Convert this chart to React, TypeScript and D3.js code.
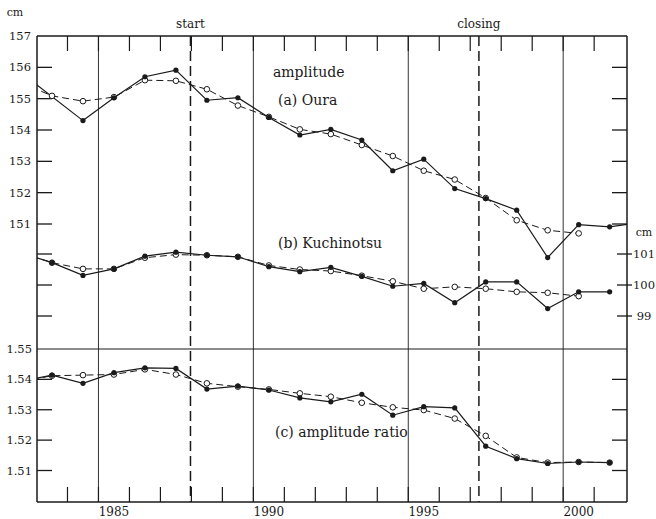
import React from "react";
import * as d3 from "d3";

const years = [1982.5, 1983.5, 1984.5, 1985.5, 1986.5, 1987.5, 1988.5, 1989.5, 1990.5, 1991.5, 1992.5, 1993.5, 1994.5, 1995.5, 1996.5, 1997.5, 1998.5, 1999.5, 2000.5, 2001.5, 2002.5];

const ouraObs = [155.83, null, 154.30, 155.03, 155.70, 155.91, 154.95, 155.03, 154.40, 153.84, 154.02, 153.68, 152.70, 153.07, 152.13, 151.81, 151.44, 149.93, 150.98, 150.91, 151.05];
const ouraSmooth = [155.51, 155.09, 154.92, 155.05, 155.59, 155.57, 155.30, 154.78, 154.42, 154.02, 153.87, 153.52, 153.17, 152.70, 152.42, 151.83, 151.12, 150.80, 150.70, null, null];

const kuchiObs = [101.04, 100.72, 100.31, 100.52, 100.93, 101.06, 100.96, 100.91, 100.59, 100.43, 100.57, 100.28, 99.96, 100.05, 99.43, 100.10, 100.10, 99.24, 99.78, 99.78, null];
const kuchiSmooth = [101.04, 100.72, 100.52, 100.52, 100.88, 100.98, 100.96, 100.91, 100.63, 100.50, 100.45, 100.30, 100.12, 99.88, 99.94, 99.88, 99.78, 99.75, 99.64, null, null];

const ratioObs = [1.5394, 1.5414, 1.5387, 1.5422, 1.5438, 1.5436, 1.5368, 1.5378, 1.5365, 1.5339, 1.5326, 1.5351, 1.5282, 1.5310, 1.5306, 1.5180, 1.5139, 1.5123, 1.5128, 1.5126, null];
const ratioSmooth = [1.5392, 1.5412, 1.5414, 1.5416, 1.5433, 1.5416, 1.5387, 1.5376, 1.5367, 1.5354, 1.5343, 1.5323, 1.5308, 1.5299, 1.5271, 1.5214, 1.5143, 1.5126, 1.5128, 1.5126, null];

const ouraTicks = [157, 156, 155, 154, 153, 152, 151];
const kuchiTicks = [101, 100, 99];
const ratioTicks = [1.55, 1.54, 1.53, 1.52, 1.51];
const decadeLines = [1985, 1990, 1995, 2000];
const yearTicks = [1984, 1985, 1986, 1987, 1988, 1989, 1990, 1991, 1992, 1993, 1994, 1995, 1996, 1997, 1998, 1999, 2000, 2001];
const events = [
  { year: 1987.97, label: "start" },
  { year: 1997.28, label: "closing" },
];

const W = 656, H = 519;
const L = 37, R = 627, T = 36, B = 502;
const serif = "'DejaVu Serif', serif";
const ink = "#1a1a1a";

const x = d3.scaleLinear().domain([1983, 2002.06]).range([36.5, 627]);
const yA = d3.scaleLinear().domain([157, 151]).range([36, 224]);
const yB = d3.scaleLinear().domain([101, 99]).range([254, 316]);
const yC = d3.scaleLinear().domain([1.55, 1.51]).range([349, 470.5]);

type Pt = [number, number];
function pts(vals: (number | null)[]): Pt[] {
  const out: Pt[] = [];
  vals.forEach((v, i) => { if (v != null) out.push([years[i], v]); });
  return out;
}
function inside(p: Pt) { return p[0] > 1983 && p[0] < 2002; }

function Series({ obs, smooth, y }: { obs: (number | null)[]; smooth: (number | null)[]; y: d3.ScaleLinear<number, number> }) {
  const line = d3.line<Pt>().x(d => x(d[0])).y(d => y(d[1]));
  const o = pts(obs), s = pts(smooth);
  return (
    <g>
      <path d={line(s) || ""} fill="none" stroke={ink} strokeWidth={1} strokeDasharray="7,4" />
      <path d={line(o) || ""} fill="none" stroke={ink} strokeWidth={1.2} />
      {s.filter(inside).map((p, i) => (
        <circle key={"s" + i} cx={x(p[0])} cy={y(p[1])} r={2.8} fill="white" stroke={ink} strokeWidth={1} />
      ))}
      {o.filter(inside).map((p, i) => (
        <circle key={"o" + i} cx={x(p[0])} cy={y(p[1])} r={2.6} fill={ink} />
      ))}
    </g>
  );
}

export default function App() {
  return (
    <svg width={W} height={H} style={{ position: "absolute", left: 0, top: 0, background: "white" }}>
      <defs>
        <clipPath id="plot"><rect x={L} y={T} width={R - L} height={B - T} /></clipPath>
      </defs>
      <rect x={0} y={0} width={W} height={H} fill="white" />

      {/* decade lines */}
      {decadeLines.map(d => (
        <line key={d} x1={x(d)} x2={x(d)} y1={T} y2={B} stroke="#333" strokeWidth={1} />
      ))}
      {/* event dashed lines */}
      {events.map(e => (
        <g key={e.label}>
          <line x1={x(e.year)} x2={x(e.year)} y1={T} y2={B} stroke={ink} strokeWidth={1.5} strokeDasharray="10,5" />
          <text x={x(e.year)} y={28} textAnchor="middle" fontFamily={serif} fontSize={12} fill={ink}>{e.label}</text>
        </g>
      ))}

      {/* frame */}
      <line x1={L} x2={R} y1={T} y2={T} stroke={ink} strokeWidth={1.5} />
      <line x1={L} x2={R} y1={B} y2={B} stroke={ink} strokeWidth={1.5} />
      <line x1={L} x2={L} y1={T} y2={B} stroke={ink} strokeWidth={1.5} />
      <line x1={R} x2={R} y1={T} y2={B} stroke={ink} strokeWidth={1.5} />
      <line x1={L} x2={R} y1={yC(1.55)} y2={yC(1.55)} stroke={ink} strokeWidth={1.2} />

      {/* year ticks */}
      {yearTicks.map(t => (
        <g key={t}>
          <line x1={x(t)} x2={x(t)} y1={T} y2={T + 15} stroke={ink} strokeWidth={1.2} />
          <line x1={x(t)} x2={x(t)} y1={B} y2={B - 15} stroke={ink} strokeWidth={1.2} />
        </g>
      ))}
      {decadeLines.map(d => (
        <text key={d} x={x(d + 0.5)} y={516} textAnchor="middle" fontFamily={serif} fontSize={12} fill={ink}>{d}</text>
      ))}

      {/* Oura axis */}
      {ouraTicks.map(t => (
        <g key={t}>
          {t !== 157 && <line x1={L} x2={L + 15} y1={yA(t)} y2={yA(t)} stroke={ink} strokeWidth={1.3} />}
          {t !== 157 && <line x1={R - 15} x2={R} y1={yA(t)} y2={yA(t)} stroke={ink} strokeWidth={1.3} />}
          <text x={31} y={yA(t)} dy="0.35em" textAnchor="end" fontFamily={serif} fontSize={11.5} fill={ink}>{t}</text>
        </g>
      ))}
      <text x={15} y={16} textAnchor="middle" fontFamily={serif} fontSize={11} fill={ink}>cm</text>

      {/* Kuchinotsu axis */}
      {kuchiTicks.map(t => (
        <g key={t}>
          <line x1={L} x2={L + 15} y1={yB(t)} y2={yB(t)} stroke={ink} strokeWidth={1.3} />
          <line x1={R - 10} x2={R + 5} y1={yB(t)} y2={yB(t)} stroke={ink} strokeWidth={1.3} />
          <text x={644} y={yB(t)} dy="0.35em" textAnchor="middle" fontFamily={serif} fontSize={11.5} fill={ink}>{t}</text>
        </g>
      ))}
      <text x={644} y={yB(101) - 22} dy="0.35em" textAnchor="middle" fontFamily={serif} fontSize={11} fill={ink}>cm</text>

      {/* ratio axis */}
      {ratioTicks.map(t => (
        <g key={t}>
          {t !== 1.55 && <line x1={L} x2={L + 15} y1={yC(t)} y2={yC(t)} stroke={ink} strokeWidth={1.3} />}
          {t !== 1.55 && <line x1={R - 15} x2={R} y1={yC(t)} y2={yC(t)} stroke={ink} strokeWidth={1.3} />}
          <text x={32} y={yC(t)} dy="0.35em" textAnchor="end" fontFamily={serif} fontSize={11.5} fill={ink}>{t.toFixed(2)}</text>
        </g>
      ))}

      {/* series */}
      <g clipPath="url(#plot)">
        <Series obs={ouraObs} smooth={ouraSmooth} y={yA} />
        <Series obs={kuchiObs} smooth={kuchiSmooth} y={yB} />
        <Series obs={ratioObs} smooth={ratioSmooth} y={yC} />
      </g>

      {/* panel labels */}
      <text x={273} y={77} fontFamily={serif} fontSize={14} fill={ink}>amplitude</text>
      <text x={278} y={105} fontFamily={serif} fontSize={14} fill={ink}>(a) Oura</text>
      <text x={278} y={248} fontFamily={serif} fontSize={14} fill={ink}>(b) Kuchinotsu</text>
      <text x={275} y={437} fontFamily={serif} fontSize={14} fill={ink}>(c) amplitude ratio</text>
    </svg>
  );
}
